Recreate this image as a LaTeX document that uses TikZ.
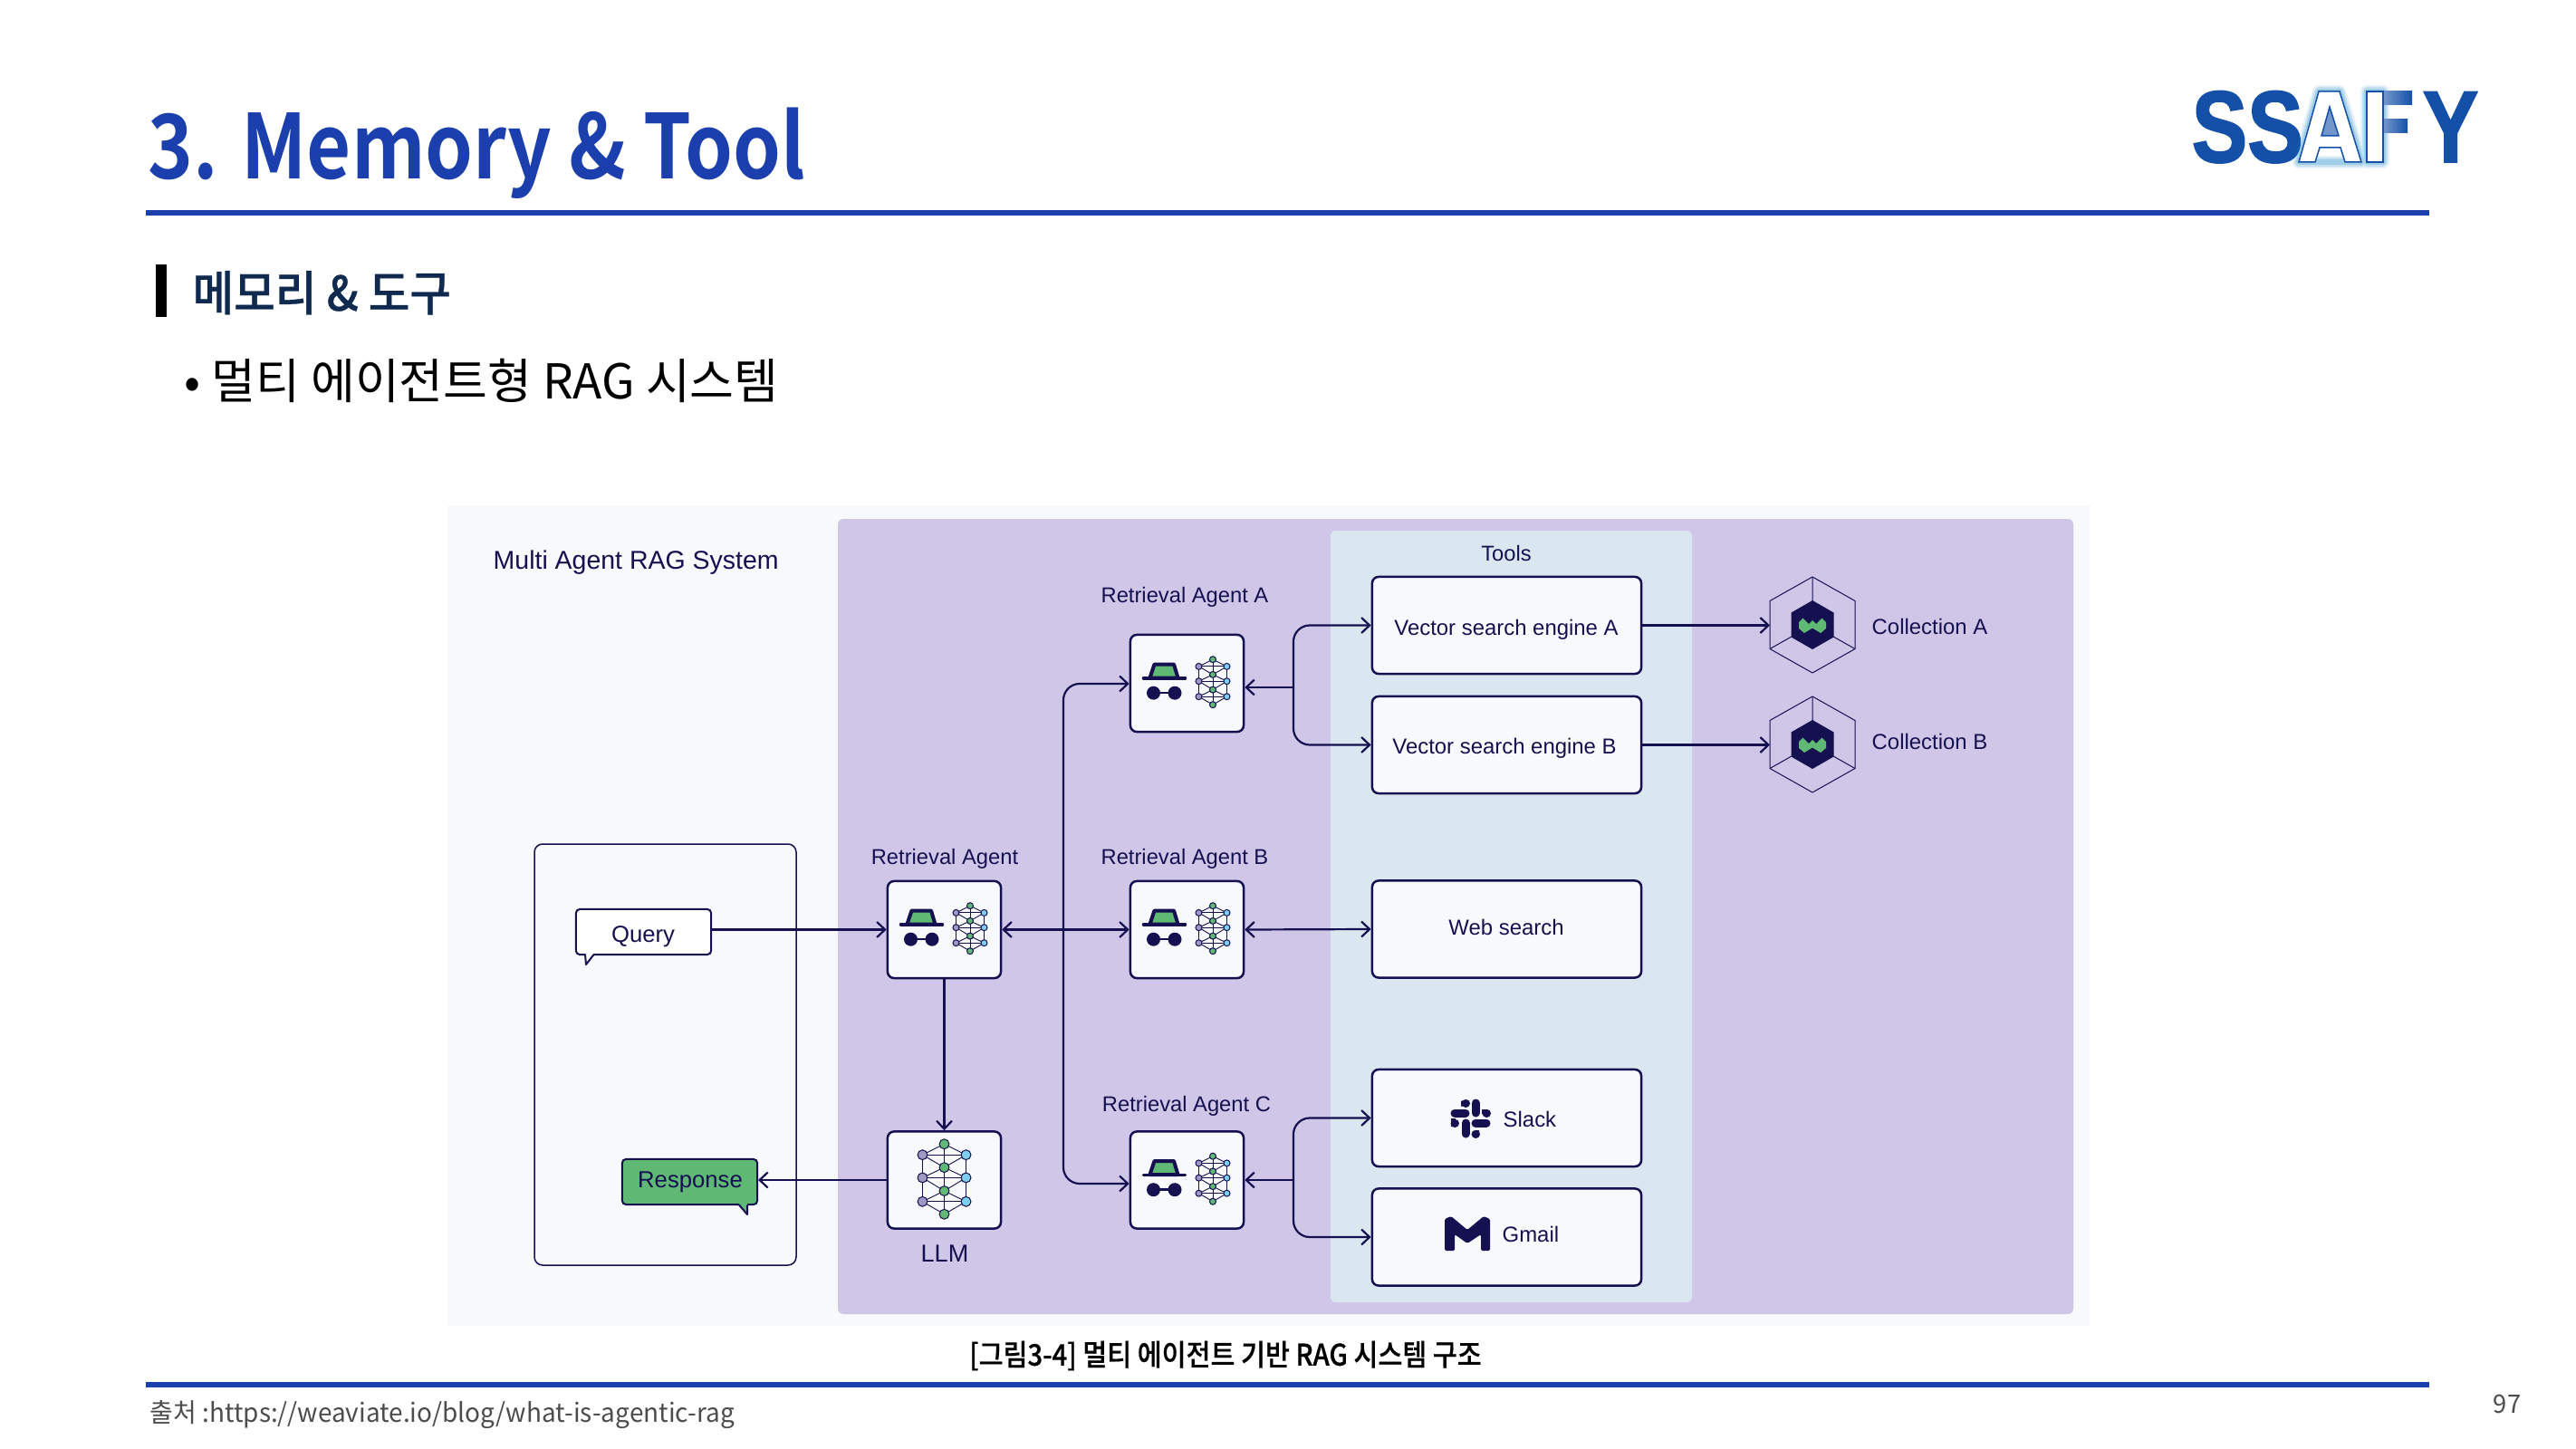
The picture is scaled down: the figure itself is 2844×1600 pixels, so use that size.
\documentclass[tikz,border=0pt]{standalone}
\usepackage{fontspec}
\usetikzlibrary{arrows.meta,calc}
\setmainfont{Liberation Sans}
\newfontfamily\krfont{Noto Sans CJK KR}[FakeStretch=0.97]
\newfontfamily\krsub{Noto Sans CJK KR}[FakeStretch=0.94,FakeBold=0.6,UprightFont=* Medium]
\newfontfamily\krcap{Noto Sans CJK KR}[FakeStretch=0.895,FakeBold=0.5,UprightFont=* Medium]
\newfontfamily\krbul{Noto Sans CJK KR}
\newfontfamily\krtitle{Noto Sans CJK KR}[FakeStretch=0.86,UprightFont=* Bold]
\newfontfamily\logofont{Liberation Sans}[FakeStretch=0.82,FakeBold=1.5,UprightFont=* Bold]
\definecolor{navy}{HTML}{15104F}
\definecolor{titleblue}{HTML}{1C3FAE}
\definecolor{logoblue}{HTML}{1450A8}
\definecolor{pagebg}{HTML}{F7F9FD}
\definecolor{purplebg}{HTML}{D0C7E8}
\definecolor{toolbg}{HTML}{DAE6F0}
\definecolor{leafgreen}{HTML}{5FB874}
\definecolor{nodepurple}{HTML}{9E98C4}
\definecolor{nodeblue}{HTML}{7DCFF0}
\definecolor{subnavy}{HTML}{0F2A4E}
\tikzset{
  box/.style={draw=navy,fill=pagebg,line width=0.025cm,rounded corners=0.07cm,inner sep=0pt},
  agentbox/.style={box,minimum width=1.25cm,minimum height=1.07cm},
  toolbox/.style={box,minimum width=2.97cm,minimum height=1.07cm},
  bubble/.style={draw=navy,line width=0.02cm,rounded corners=0.04cm,inner sep=0pt,minimum width=1.49cm,minimum height=0.5cm},
  conn/.style={draw=navy,line width=0.022cm,arrows={-},rounded corners=0.18cm},
  tip/.tip={Straight Barb[length=0.09cm,width=0.17cm,line width=0.022cm]},
  lbl/.style={text=navy,inner sep=0pt,font=\fontsize{6.75pt}{8pt}\selectfont},
  lblb/.style={text=navy,inner sep=0pt,font=\fontsize{6.8pt}{8pt}\selectfont},
  netline/.style={draw=navy,line width=0.009cm},
  netnode/.style={draw=navy,line width=0.01cm},
  pics/netglyph/.style={code={
    \foreach \yy/\zz in {-17.3/-8.3,-1/8.4,16/25,-17.3/-25,-1/-8.3,16/8.4}{
      \draw[netline] (-15.5,\yy)--(0,\zz)--(15.5,\yy);
    }
    \draw[netline] (-15.5,-17.3)--(-15.5,16) (15.5,-17.3)--(15.5,16) (0,-25)--(0,25);
    \foreach \yy in {-17.3,-1,16}{\draw[netline] (-15.5,\yy)--(15.5,\yy);}
    \foreach \yy in {-25,-8.3,8.4,25}{\filldraw[netnode,fill=leafgreen] (0,\yy) circle (3.5);}
    \foreach \yy in {-17.3,-1,16}{
      \filldraw[netnode,fill=nodepurple] (-15.5,\yy) circle (3.5);
      \filldraw[netnode,fill=nodeblue] (15.5,\yy) circle (3.5);
    }
  }},
  pics/spyglyph/.style={code={
    \filldraw[draw=navy,line width=0.04cm,fill=leafgreen,line join=round] (-41,-6) -- (-36,-21) -- (-14.5,-21) -- (-10,-6) -- cycle;
    \draw[navy,line width=0.035cm,line cap=round] (-48,-5.7) -- (-2,-5.7);
    \fill[navy] (-37,10.7) circle (7.5) (-13.5,10.7) circle (7.5);
    \draw[navy,line width=0.025cm] (-37,10.7) -- (-13.5,10.7);
  }},
  pics/agentglyph/.style={code={
    \pic {spyglyph};
    \pic at (28.5,-1.3) {netglyph};
  }},
  pics/hexglyph/.style={code={
    \draw[navy,line width=0.01cm,line join=round] (0,-53)--(47,-26.5)--(47,26.5)--(0,53)--(-47,26.5)--(-47,-26.5)--cycle;
    \draw[navy,line width=0.01cm] (0,-53)--(0,0) (47,26.5)--(0,0)--(-47,26.5);
    \fill[navy] (0,-27)--(23.5,-13.5)--(23.5,13.5)--(0,27)--(-23.5,13.5)--(-23.5,-13.5)--cycle;
    \fill[leafgreen] (-15,-3)--(-10.5,-7.3)--(-4,-1)--(0,-5)--(4,-1)--(10.5,-7.3)--(15,-3)--(15,4)--(9,9)--(0,3.5)--(-9,9)--(-15,4)--cycle;
  }},
}
\begin{document}
\begin{tikzpicture}[x=0.01cm,y=-0.01cm]
\useasboundingbox (0,0) rectangle (2844,1600);
\fill[white] (0,0) rectangle (2844,1600);

% header
\node[anchor=base west,inner sep=0pt,text=titleblue,font=\krtitle\fontsize{28pt}{30pt}\selectfont] (title) at (163,198) {3. Memory \& Tool};
\fill[titleblue] (161,232) rectangle (2682,238);
\fill[black] (172,292) rectangle (184,350);
\node[anchor=base west,inner sep=0pt,text=subnavy,font=\krsub\fontsize{15pt}{16pt}\selectfont] (sub) at (212,343) {메모리 \& 도구};
\node[anchor=base west,inner sep=0pt,text=black,font=\krbul\fontsize{15.1pt}{16pt}\selectfont] (bul) at (203,440) {• 멀티 에이전트형 RAG 시스템};

% logo
\node[anchor=base west,inner sep=0pt,text=logoblue,font=\logofont\fontsize{32pt}{34pt}\selectfont] (logoss) at (2419,179) {SS};
\node[anchor=base east,inner sep=0pt,text=logoblue,font=\logofont\fontsize{32pt}{34pt}\selectfont] (logoy) at (2737,179) {Y};
\foreach \w/\o in {0.14/0.10,0.10/0.15,0.06/0.2}{
  \draw[line width=\w cm,logoblue!70!cyan,opacity=\o,line join=round] (2538,179)--(2560,101)--(2583,101)--(2607,179)--cycle (2613,101) rectangle (2631,179);
}
\fill[logoblue!60] (2563,150)--(2582,150)--(2572,118)--cycle;
\filldraw[draw=logoblue,line width=0.015cm,fill=white,even odd rule,line join=miter] (2538,179)--(2560,101)--(2583,101)--(2607,179)--(2589,179)--(2584,163)--(2561,163)--(2556,179)--cycle (2563,150)--(2582,150)--(2572,118)--cycle;
\filldraw[draw=logoblue,line width=0.015cm,fill=white] (2613,101) rectangle (2631,179);
\shade[left color=logoblue!60,right color=logoblue] (2632,101) rectangle (2663,116);
\shade[left color=logoblue!60,right color=logoblue] (2632,132) rectangle (2658,147);

% diagram panels
\fill[pagebg] (494,558) rectangle (2307,1464);
\fill[purplebg,rounded corners=0.06cm] (925,573) rectangle (2289,1451);
\fill[toolbg,rounded corners=0.06cm] (1469,586) rectangle (1868,1438);
\draw[draw=navy,line width=0.015cm,rounded corners=0.09cm] (590,932) rectangle (879,1397);

\node[lblb,anchor=base west,font=\fontsize{8.1pt}{10pt}\selectfont] (systitle) at (544,628) {Multi Agent RAG System};
\node[lbl] (toolslbl) at (1663,611) {Tools};

% agents
\node[agentbox] (ragent) at (1042.5,1026.5) {};
\node[agentbox] (agentA) at (1310.5,754.5) {};
\node[agentbox] (agentB) at (1310.5,1026.5) {};
\node[agentbox] (agentC) at (1310.5,1303) {};
\node[agentbox] (llm) at (1042.5,1303) {};
\pic at (ragent) {agentglyph};
\pic at (agentA) {agentglyph};
\pic at (agentB) {agentglyph};
\pic at (agentC) {agentglyph};
\pic[scale=1.55] at ($(llm)+(0,-1)$) {netglyph};

\node[lbl] (ragentlbl) at (1043,948) {Retrieval Agent};
\node[lbl] (agentAlbl) at (1308,659) {Retrieval Agent A};
\node[lbl] (agentBlbl) at (1308,948) {Retrieval Agent B};
\node[lbl] (agentClbl) at (1310,1221) {Retrieval Agent C};
\node[lbl,font=\fontsize{7.7pt}{9pt}\selectfont] (llmlbl) at (1043,1384) {LLM};

% tools
\node[toolbox] (vecA) at (1663.5,690.5) {};
\node[toolbox] (vecB) at (1663.5,822.5) {};
\node[toolbox] (web) at (1663.5,1026) {};
\node[toolbox] (slack) at (1663.5,1234.5) {};
\node[toolbox] (gmail) at (1663.5,1366) {};
\node[lblb] at (1663,695) {Vector search engine A};
\node[lblb] at (1661,826) {Vector search engine B};
\node[lblb] at (1663,1024) {Web search};
\node[lblb,anchor=west] at (1659,1236) {Slack};
\node[lblb,anchor=west] at (1658,1363) {Gmail};

% slack icon
\begin{scope}[shift={(1623,1235)},navy,line cap=round,line width=0.09cm]
  \draw (-17,-6)--(-5,-6) (6,-17)--(6,-6) (6,5)--(18,5) (-5,5)--(-5,17);
  \draw (-5,-17)--(-4.5,-17) (18,-6)--(18.5,-6) (6,17)--(6.5,17) (-17,5)--(-16.5,5);
  \fill (-10,-19.5) rectangle (-5,-13.5) (19,-5) rectangle (13,-10) (5,19) rectangle (10,13) (-21,9) rectangle (-16,0);
\end{scope}
% gmail icon
\fill[navy,rounded corners=0.015cm] (1595,1346)--(1602,1343)--(1620,1358)--(1638,1343)--(1645,1346)--(1645,1381)--(1635,1381)--(1635,1363)--(1620,1373)--(1606,1363)--(1606,1381)--(1595,1381)--cycle;

% collections
\pic at (2001,690) {hexglyph};
\pic at (2001,822) {hexglyph};
\coordinate (colA) at (1954,690.5);
\coordinate (colB) at (1954,822.5);
\node[lblb,anchor=west] at (2066,692) {Collection A};
\node[lblb,anchor=west] at (2066,819) {Collection B};

% user box
\node[bubble,fill=white] (query) at (710.5,1029) {};
\node[bubble,fill=leafgreen] (resp) at (761.5,1305) {};
\fill[white] (646,1053)--(647,1065)--(656,1053)--cycle;
\draw[navy,line width=0.02cm,line join=round] (646,1053.5)--(647,1065)--(656,1053.5);
\fill[leafgreen] (816,1329)--(825,1341)--(825,1329)--cycle;
\draw[navy,line width=0.02cm,line join=round] (816,1330.5)--(825,1341)--(825,1330.5);
\node[lblb,font=\fontsize{7.3pt}{9pt}\selectfont] at (710,1034) {Query};
\node[lblb,font=\fontsize{7.3pt}{9pt}\selectfont] at (762,1305) {Response};

% connectors
\coordinate (spineTop) at (1174,755);
\coordinate (spineBot) at (1174,1307);
\coordinate (jA) at (1428,759);
\coordinate (jC) at (1428,1303);
\draw[conn,{tip}-{tip}] (spineTop -| agentA.west) -- (spineTop) -- (spineBot) -- (spineBot -| agentC.west);
\draw[conn,-{tip}] (ragent.west -| query.east) -- (ragent.west);
\draw[conn,{tip}-{tip}] (ragent.east) -- (agentB.west);
\draw[conn,-{tip}] (ragent.south) -- (llm.north);
\draw[conn,-{tip}] (llm.west) -- (resp.east |- llm.west);
\draw[conn,{tip}-{tip}] (agentB.east) -- (web.west);
\draw[conn,{tip}-{tip}] (vecA.west) -- (vecA.west -| jA) -- (vecB.west -| jA) -- (vecB.west);
\draw[conn,{tip}-] (jA -| agentA.east) -- (jA);
\draw[conn,{tip}-{tip}] (slack.west) -- (slack.west -| jC) -- (gmail.west -| jC) -- (gmail.west);
\draw[conn,{tip}-] (jC -| agentC.east) -- (jC);
\draw[conn,-{tip}] (vecA.east) -- (colA);
\draw[conn,-{tip}] (vecB.east) -- (colB);

% footer
\node[inner sep=0pt,text=black,font=\krcap\fontsize{9.3pt}{11pt}\selectfont] (caption) at (1353,1497) {[그림3-4] 멀티 에이전트 기반 RAG 시스템 구조};
\fill[titleblue] (161,1526) rectangle (2682,1532);
\node[anchor=west,inner sep=0pt,text=black!70,font=\krfont\fontsize{8.2pt}{10pt}\selectfont] (src) at (165,1562) {출처 :https://weaviate.io/blog/what-is-agentic-rag};
\node[inner sep=0pt,text=black!70,font=\krfont\fontsize{8pt}{10pt}\selectfont] (pageno) at (2768,1550) {97};
\end{tikzpicture}
\end{document}
